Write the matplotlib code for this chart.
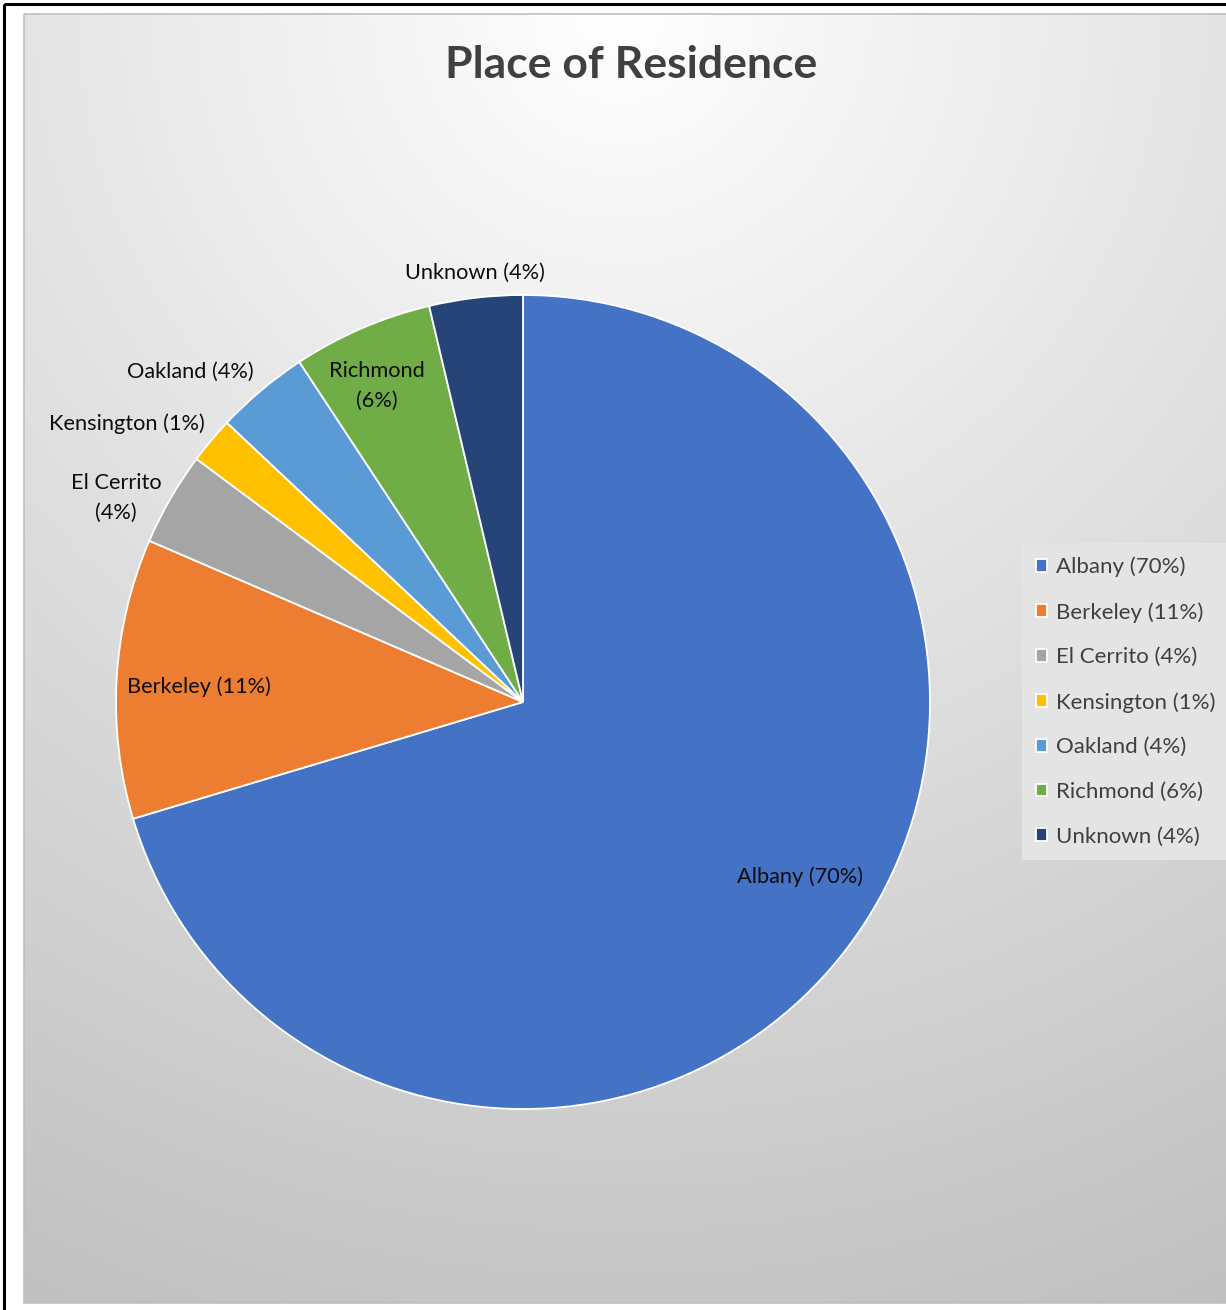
#!/usr/bin/env python3
"""Place of Residence pie chart (Excel-style, gradient background)."""
import matplotlib

matplotlib.use("Agg")
import matplotlib.pyplot as plt
import numpy as np
from matplotlib.patches import Rectangle

W, H = 1226, 1310
FONT = ["Lato", "DejaVu Sans"]

PLACES = ["Albany", "Berkeley", "El Cerrito", "Kensington", "Oakland", "Richmond", "Unknown"]
COUNTS = [38, 6, 2, 1, 2, 3, 2]
PCT_TEXT = ["70%", "11%", "4%", "1%", "4%", "6%", "4%"]
COLORS = ["#4472C4", "#ED7D31", "#A5A5A5", "#FFC000", "#5B9BD5", "#70AD47", "#264478"]

# data label text and placement (pie units, Excel "best fit" style)
LEGEND_TEXT = [f"{p} ({t})" for p, t in zip(PLACES, PCT_TEXT)]
LABEL_TEXT = list(LEGEND_TEXT)
LABEL_TEXT[2] = "El Cerrito\n(4%)"
LABEL_TEXT[5] = "Richmond\n(6%)"
LABEL_XY = [(0.681, -0.430), (-0.796, 0.037), (-1.0, 0.501), (-0.973, 0.683),
            (-0.818, 0.811), (-0.359, 0.776), (-0.118, 1.054)]


def main():
    fig = plt.figure(figsize=(W / 100, H / 100), dpi=100)
    fig.patch.set_facecolor("white")

    # background: radial gradient chart area + outer frame
    bg = fig.add_axes([0, 0, 1, 1])
    bg.axis("off")
    x0, y0, x1, y1 = 24, 14, W, 1303
    xx, yy = np.meshgrid(np.arange(x0, x1), np.arange(y0, y1))
    d = np.hypot(xx - 620, yy - 14) / 1290.0
    g = np.clip(1.0 - 0.225 * d, 0, 1)
    img = np.dstack([g, g, g])
    bg.imshow(img, extent=(x0, x1, y1, y0), interpolation="bilinear", aspect="auto")
    bg.add_patch(Rectangle((x0, y0), 1400, y1 - y0, fill=False, edgecolor="#bfbfbf", lw=1.2))
    bg.add_patch(Rectangle((4, 4), 1400, 1400, fill=False, edgecolor="black", lw=2.2))
    bg.set_xlim(0, W)
    bg.set_ylim(H, 0)

    # pie
    cx, cy, r = 523, 702, 407
    ax = fig.add_axes([(cx - r) / W, (H - cy - r) / H, 2 * r / W, 2 * r / H])
    wedges, _ = ax.pie(COUNTS, colors=COLORS, startangle=90, counterclock=False,
                       radius=1, wedgeprops=dict(edgecolor="white", linewidth=1.3))
    ax.set_xlim(-1, 1)
    ax.set_ylim(-1, 1)
    ax.set_aspect("equal")
    ax.axis("off")

    for txt, (lx, ly) in zip(LABEL_TEXT, LABEL_XY):
        ax.text(lx, ly, txt, ha="center", va="center", fontsize=15.7, color="#0d0d0d",
                family=FONT, linespacing=1.6)

    fig.text(631.5 / W, 1 - 65 / H, "Place of Residence", ha="center", va="center",
             fontsize=32, fontweight="bold", color="#404040", family=FONT)

    fig.legend(wedges, LEGEND_TEXT,
               loc="upper left", bbox_to_anchor=(1022 / W, 1 - 543 / H),
               prop=dict(family=FONT, size=16), labelcolor="#404040",
               frameon=True, fancybox=False, framealpha=1.0,
               facecolor="#e4e4e4", edgecolor="none",
               handlelength=0.52, handleheight=0.52, handletextpad=0.38,
               labelspacing=1.11, borderpad=0.62, borderaxespad=0)

    fig.savefig("out.png", dpi=100)


if __name__ == "__main__":
    main()
